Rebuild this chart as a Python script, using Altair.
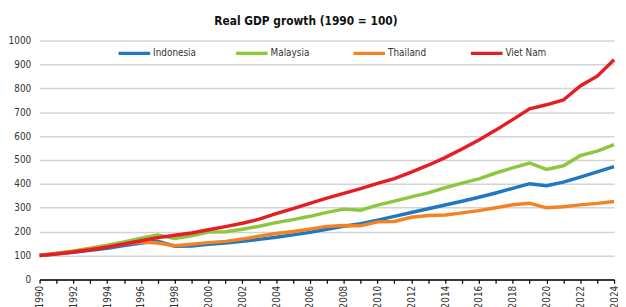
import altair as alt
import pandas as pd

years = list(range(1990, 2025))
countries = ["Indonesia", "Malaysia", "Thailand", "Viet Nam"]
colors = ["#1f78c1", "#8dc63f", "#f58220", "#e31e24"]

indonesia = [100, 106.9, 113.8, 121.6, 130.7, 141.4, 152.5, 159.6, 138.7, 140.0,
             147.1, 152.6, 159.7, 167.6, 176.2, 186.5, 197.0, 209.8, 222.6, 233.2,
             248.0, 263.7, 280.0, 296.0, 311.3, 327.0, 343.8, 361.9, 381.2, 400.8,
             392.4, 407.0, 428.5, 449.9, 472.5]
malaysia = [100, 109.5, 119.2, 131.0, 143.1, 157.1, 172.8, 185.4, 171.7, 182.2,
            198.4, 199.4, 210.2, 222.4, 237.5, 250.1, 264.1, 280.7, 294.2, 289.8,
            311.2, 327.7, 345.7, 362.0, 383.7, 403.3, 421.0, 445.4, 466.8, 487.3,
            460.5, 475.7, 518.0, 536.7, 564.0]
thailand = [100, 108.6, 117.4, 127.1, 137.3, 148.4, 156.8, 152.4, 140.8, 147.3,
            153.9, 159.1, 168.8, 181.0, 192.4, 200.5, 210.5, 221.9, 225.7, 224.1,
            240.9, 242.8, 260.3, 267.3, 270.0, 278.4, 287.9, 300.0, 312.6, 319.2,
            299.7, 304.5, 312.1, 318.3, 326.3]
vietnam = [100, 106, 115, 124, 135, 148, 162, 175, 185, 194,
           208, 221, 235, 252, 275, 296, 318, 340, 360, 380,
           402, 422, 449, 478, 510, 546, 584, 625, 669, 714,
           731, 751, 810, 851, 920]

series = {"Indonesia": indonesia, "Malaysia": malaysia, "Thailand": thailand, "Viet Nam": vietnam}
rows = []
for c in countries:
    for y, v in zip(years, series[c]):
        rows.append({"year": y, "value": v, "country": c})
df = pd.DataFrame(rows)

FONT = "DejaVu Sans Condensed, Liberation Sans Narrow, sans-serif"

chart = alt.Chart(df).mark_line(strokeWidth=3.5).encode(
    x=alt.X("year:Q",
            scale=alt.Scale(domain=[1990, 2024], nice=False, zero=False),
            axis=alt.Axis(values=years, format="d", labelAngle=-90, title=None,
                          labelExpr="datum.value % 2 == 0 ? datum.label : ''",
                          grid=False, domainColor="#000", domainWidth=1.5,
                          tickColor="#000", tickWidth=1.2, tickSize=4,
                          labelPadding=2, labelFontSize=10, labelColor="#333",
                          labelFont=FONT, labelOverlap=False)),
    y=alt.Y("value:Q",
            scale=alt.Scale(domain=[0, 1000], nice=False),
            axis=alt.Axis(values=list(range(0, 1001, 100)), title=None, format="d",
                          domain=False, ticks=False, labelPadding=9,
                          gridColor="#d4d4d4", gridWidth=1.5,
                          labelFontSize=10, labelColor="#333", labelFont=FONT)),
    color=alt.Color("country:N",
                    scale=alt.Scale(domain=countries, range=colors),
                    legend=alt.Legend(title=None, orient="none", legendX=78, legendY=-5,
                                      direction="horizontal", columns=4,
                                      gridAlign="all", columnPadding=33,
                                      symbolType="stroke", symbolSize=1024,
                                      symbolStrokeWidth=3.5, labelOffset=1,
                                      labelFontSize=10, labelColor="#333",
                                      labelFont=FONT, padding=0)),
).properties(
    width=582, height=242,
    autosize=alt.AutoSizeParams(type="none"),
    padding={"left": 32, "top": 31, "right": 4, "bottom": 26},
    title=alt.Title("Real GDP growth (1990 = 100)", anchor="start", frame="group",
                    dx=177, offset=8, fontSize=12, fontWeight="bold",
                    font=FONT, color="#111"),
).configure_view(stroke=None)

chart.save("out.html", embed_options={"renderer": "svg", "actions": False})
